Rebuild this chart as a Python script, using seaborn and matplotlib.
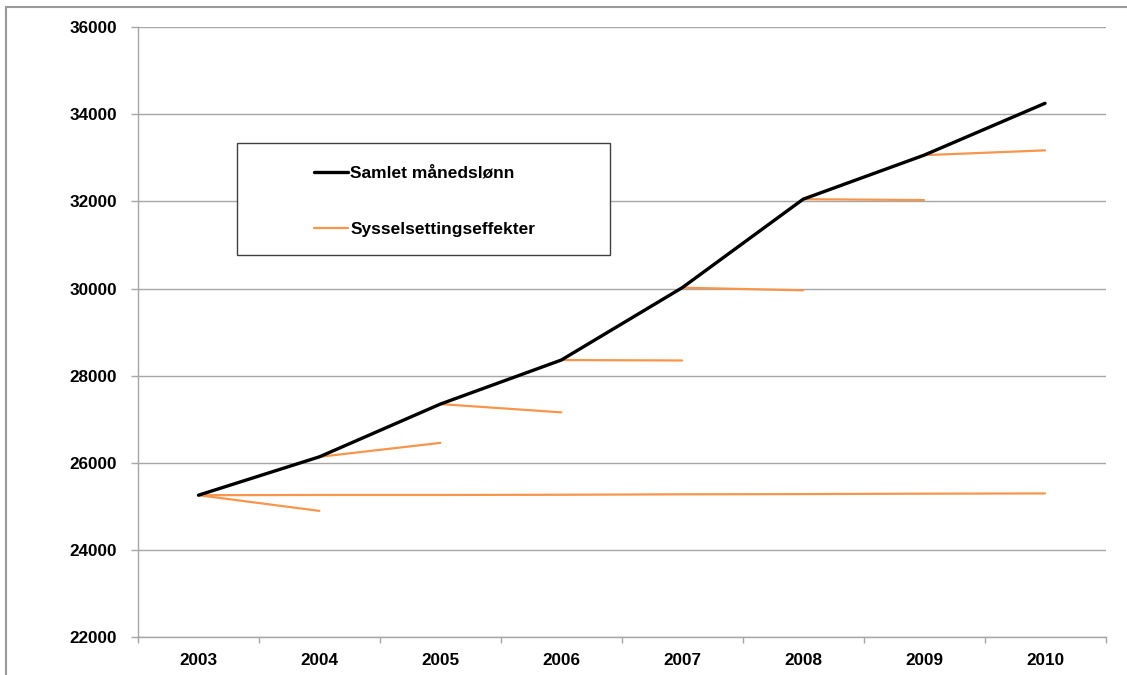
import numpy as np
import pandas as pd
import seaborn as sns
import matplotlib
matplotlib.use('Agg')
import matplotlib.pyplot as plt
from matplotlib.patches import Rectangle
from matplotlib.lines import Line2D

# data
years = [2003, 2004, 2005, 2006, 2007, 2008, 2009, 2010]
samlet = [25260, 26140, 27350, 28360, 30020, 32050, 33060, 34250]
# employment effect one year ahead, starting from each year's wage level
effekt_neste_aar = [24900, 26460, 27160, 28350, 29960, 32030, 33170]
# employment effect cumulated from 2003
effekt_fra_2003 = [25260, 25265, 25265, 25270, 25280, 25285, 25295, 25300]

black = '#000000'
orange = '#F7964A'
grid_col = '#A6A6A6'

df_samlet = pd.DataFrame({'year': years, 'value': samlet})

rows = []
for i, v in enumerate(effekt_neste_aar):
    rows.append({'seg': i, 'year': years[i], 'value': samlet[i]})
    rows.append({'seg': i, 'year': years[i + 1], 'value': v})
for y, v in zip(years, effekt_fra_2003):
    rows.append({'seg': 99, 'year': y, 'value': v})
df_eff = pd.DataFrame(rows)

sns.set_theme(style='white')
plt.rcParams['font.family'] = ['Liberation Sans', 'DejaVu Sans']
plt.rcParams['font.weight'] = 'bold'
plt.rcParams['text.color'] = 'black'
plt.rcParams['xtick.color'] = 'black'
plt.rcParams['ytick.color'] = 'black'

fig = plt.figure(figsize=(11.27, 6.75), dpi=100)
ax = fig.add_axes([138 / 1127, 1 - 637.3 / 675, (1105.5 - 138) / 1127, (637.3 - 27) / 675])

sns.lineplot(data=df_eff, x='year', y='value', units='seg', estimator=None,
             color=orange, lw=1.6, ax=ax, legend=False)
sns.lineplot(data=df_samlet, x='year', y='value', color=black, lw=2.4, ax=ax,
             legend=False)

ax.set_xlim(2002.5, 2010.5)
ax.set_ylim(22000, 36000)
ax.set_yticks(np.arange(22000, 36001, 2000))
ax.set_yticklabels([str(v) for v in range(22000, 36001, 2000)], fontsize=12.3,
                   fontweight='bold', color='black')
ax.set_xticks(np.arange(2002.5, 2010.6, 1))
ax.set_xticklabels([])
ax.set_xticks(years, minor=True)
ax.set_xticklabels([str(y) for y in years], minor=True, fontsize=12.3,
                   fontweight='bold', color='black')
ax.tick_params(axis='x', which='major', direction='out', length=4, width=1,
               color=grid_col, bottom=True)
ax.tick_params(axis='x', which='minor', length=0, pad=11)
ax.tick_params(axis='y', direction='out', length=5, width=1, color=grid_col,
               left=True, pad=10)
ax.set_xlabel('')
ax.set_ylabel('')

ax.grid(axis='y', color=grid_col, lw=1)
ax.grid(axis='x', visible=False)
for s in ['top', 'right']:
    ax.spines[s].set_visible(False)
for s in ['left', 'bottom']:
    ax.spines[s].set_color(grid_col)
    ax.spines[s].set_linewidth(1)

# legend box
W, H = 1127, 675
box = Rectangle((237 / W, 1 - 255 / H), (610 - 237) / W, (255 - 143) / H,
                transform=fig.transFigure, facecolor='white',
                edgecolor='#404040', lw=1, zorder=5)
fig.patches.append(box)
handles = [Line2D([], [], color=black, lw=2.4),
           Line2D([], [], color=orange, lw=1.6)]
leg = fig.legend(handles, ['Samlet månedslønn', 'Sysselsettingseffekter'],
                 loc='upper left', bbox_to_anchor=(305 / W, 1 - 157 / H),
                 frameon=False, fontsize=12.5, handlelength=2.0,
                 handletextpad=0.1, labelspacing=2.35, borderpad=0)
for t in leg.get_texts():
    t.set_fontweight('bold')
    t.set_color('black')
leg.set_zorder(6)

# outer chart frame (cropped on right and bottom)
fig.add_artist(Line2D([6 / W, 1], [1 - 7 / H, 1 - 7 / H], transform=fig.transFigure,
                      color='#999999', lw=1.5))
fig.add_artist(Line2D([6 / W, 6 / W], [0, 1 - 7 / H], transform=fig.transFigure,
                      color='#999999', lw=1.5))

fig.savefig('out.png', dpi=100, facecolor='white')
